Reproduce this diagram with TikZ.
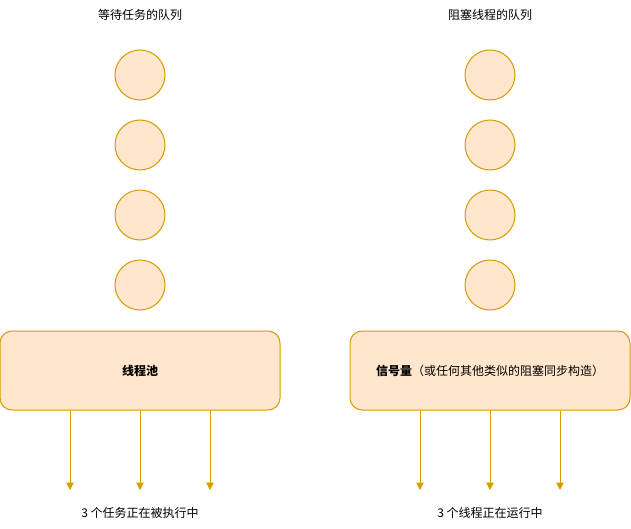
\documentclass[tikz,border=0pt]{standalone}
\usepackage{fontspec}
\setmainfont{Noto Sans CJK SC}
\usetikzlibrary{arrows.meta}
\definecolor{ofill}{HTML}{FFE6CC}
\definecolor{ostroke}{HTML}{D79B00}
\tikzset{
  qitem/.style={circle, draw=ostroke, fill=ofill, line width=0.75pt, minimum size=37.5pt, inner sep=0pt},
  poolbox/.style={draw=ostroke, fill=ofill, line width=0.75pt, rounded corners=9pt, minimum width=210pt, minimum height=59.25pt, inner sep=0pt, font=\fontsize{9}{11}\selectfont},
  lbl/.style={font=\fontsize{9}{11}\selectfont, inner sep=0pt},
  runarrow/.style={draw=ostroke, line width=0.75pt, -{Triangle[width=5.5pt,length=5.5pt]}}
}
\begin{document}
\begin{tikzpicture}[x=0.75pt,y=-0.75pt]
\useasboundingbox (0,0) rectangle (631,528);
% titles
\node[lbl] (tl) at (140,15) {等待任务的队列};
\node[lbl] (tr) at (490,15) {阻塞线程的队列};
% circles
\foreach \i/\yy in {1/75,2/145,3/215,4/285}{
  \node[qitem] (l\i) at (140,\yy) {};
  \node[qitem] (r\i) at (490,\yy) {};
}
% boxes
\node[poolbox] (pool) at (140,370.5) {\textbf{线程池}};
\node[poolbox] (sem) at (490,370.5) {\textbf{信号量}（或任何其他类似的阻塞同步构造）};
% arrow end points
\foreach \n/\xx in {a/70,b/140,c/210}{
  \coordinate (le\n) at (\xx,490);
  \draw[runarrow] (pool.south -| le\n) -- (le\n);
}
\foreach \n/\xx in {a/420,b/490,c/560}{
  \coordinate (re\n) at (\xx,490);
  \draw[runarrow] (sem.south -| re\n) -- (re\n);
}
\node[lbl] (bl) at (140,513) {3 个任务正在被执行中};
\node[lbl] (br) at (490,513) {3 个线程正在运行中};
\end{tikzpicture}
\end{document}
